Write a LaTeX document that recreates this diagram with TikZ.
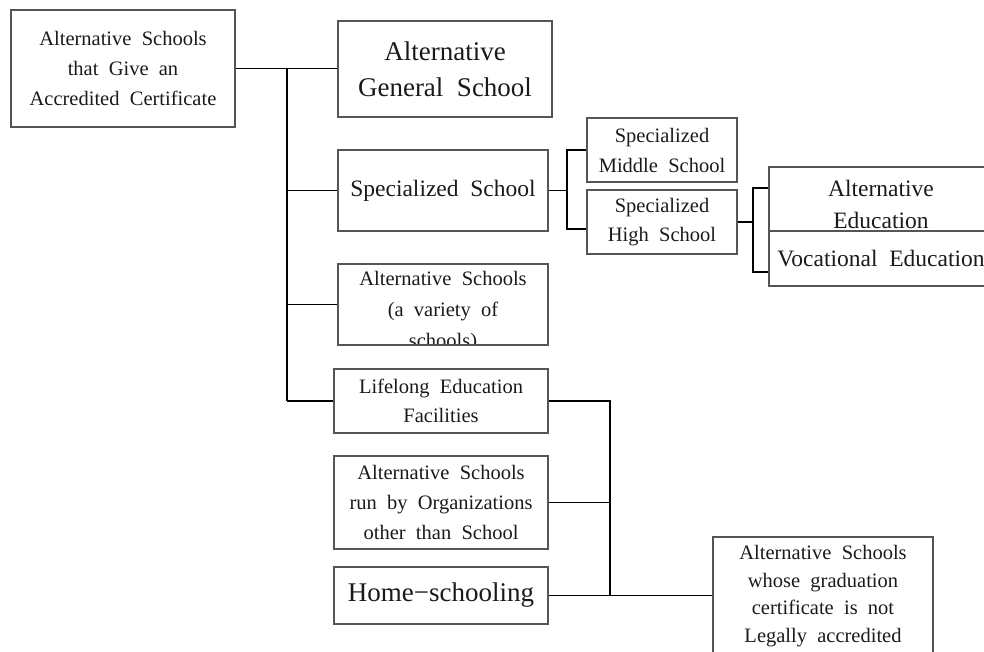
\documentclass[tikz,border=0pt]{standalone}
\usepackage{fontspec}
\setmainfont{Liberation Serif}[WordSpace=2]
\definecolor{bordercol}{HTML}{555555}
\definecolor{textcol}{HTML}{1A1A1A}
\tikzset{
  bx/.style={draw=bordercol, line width=1.1pt, inner sep=0pt, align=center, text=textcol},
  txt/.style={inner sep=0pt, align=center, text=textcol},
  fsmall/.style={font=\fontsize{20.5}{30}\selectfont},
  fmed/.style={font=\fontsize{23.5}{32}\selectfont},
  flarge/.style={font=\fontsize{27}{36}\selectfont},
  conn/.style={draw=black, line width=1.3pt}
}
\begin{document}
\begin{tikzpicture}[x=1pt,y=-1pt]
\useasboundingbox (0,0) rectangle (984,652);
\clip (0,0) rectangle (984,652);

% boxes
\node[bx,fsmall,minimum width=224pt,minimum height=117pt] (root) at (123,68.5)
  {Alternative Schools\\that Give an\\Accredited Certificate};
\node[bx,flarge,minimum width=214pt,minimum height=96pt] (B) at (445,69)
  {Alternative\\General School};
\node[bx,fmed,minimum width=210pt,minimum height=81pt] (C) at (443,190.5)
  {Specialized School};
\node[bx,fsmall,minimum width=150pt,minimum height=64pt] (Mid) at (662,150)
  {Specialized\\Middle School};
\node[bx,fsmall,font=\fontsize{20.5}{29}\selectfont,minimum width=150pt,minimum height=64pt] (High) at (662,222)
  {Specialized\\High School};
\node[bx,minimum width=224pt,minimum height=64pt] (AltEd) at (881,199) {};
\node[txt,fmed] (AltEdText) at (881,204) {Alternative\\Education};
\node[bx,fmed,minimum width=224pt,minimum height=55pt] (VocEd) at (881,258.5)
  {Vocational Education};

\begin{scope}
  \clip (338,264) rectangle (548,345);
  \node[txt,font=\fontsize{20.5}{31}\selectfont] (Dtext) at (443,312)
    {Alternative Schools\\(a variety of\\schools)};
\end{scope}
\node[bx,minimum width=210pt,minimum height=81pt] (D) at (443,304.5) {};

\node[bx,font=\fontsize{20.5}{29}\selectfont,minimum width=214pt,minimum height=64pt] (E) at (441,401)
  {Lifelong Education\\Facilities};
\node[bx,fsmall,minimum width=214pt,minimum height=93pt] (F) at (441,502.5)
  {Alternative Schools\\run by Organizations\\other than School};
\node[bx,flarge,minimum width=214pt,minimum height=57pt] (G) at (441,595.5)
  {Home−schooling};
\node[bx,font=\fontsize{20.5}{27.5}\selectfont,minimum width=220pt,minimum height=118pt] (H) at (823,596)
  {Alternative Schools\\whose graduation\\certificate is not\\Legally accredited};

% connectors
\coordinate (tTop) at (287,68.5);
\draw[conn] (root.east) -- (root.east -| B.west);
\draw[conn] (tTop) -- (tTop |- E.west);
\draw[conn] (tTop |- C.west) -- (C.west);
\draw[conn] (tTop |- D.west) -- (D.west);
\draw[conn] (tTop |- E.west) -- (E.west);

\coordinate (sX) at (567,0);
\coordinate (HighIn) at ([yshift=-7pt]High.west);
\draw[conn] (C.east) -- (C.east -| sX);
\draw[conn] (Mid.west) -- (sX |- Mid.west) -- (sX |- HighIn) -- (HighIn);

\coordinate (hX) at (753,0);
\coordinate (AltIn) at ([yshift=11pt]AltEd.west);
\coordinate (VocIn) at ([yshift=-13.5pt]VocEd.west);
\draw[conn] (High.east) -- (High.east -| hX);
\draw[conn] (AltIn) -- (hX |- AltIn) -- (hX |- VocIn) -- (VocIn);

\coordinate (lX) at (610,0);
\draw[conn] (E.east) -- (lX |- E.east) -- (lX |- G.east);
\draw[conn] (F.east) -- (lX |- F.east);
\draw[conn] (G.east) -- (G.east -| H.west);
\end{tikzpicture}
\end{document}
